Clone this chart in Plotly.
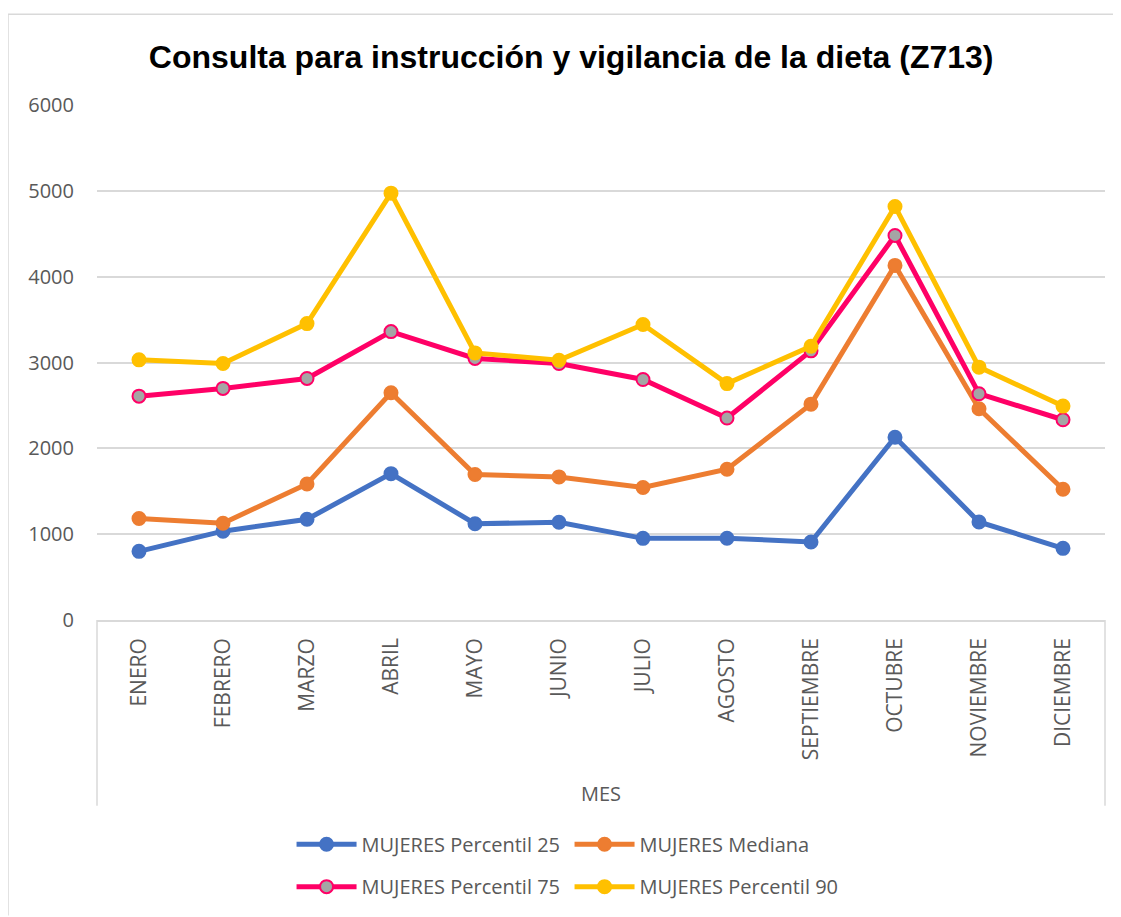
import plotly.graph_objects as go

meses = ["ENERO", "FEBRERO", "MARZO", "ABRIL", "MAYO", "JUNIO", "JULIO",
         "AGOSTO", "SEPTIEMBRE", "OCTUBRE", "NOVIEMBRE", "DICIEMBRE"]
p25 = [800, 1035, 1174, 1705, 1122, 1138, 951, 953, 909, 2130, 1142, 835]
mediana = [1182, 1128, 1585, 2647, 1696, 1667, 1543, 1756, 2515, 4131, 2461, 1523]
p75 = [2608, 2698, 2814, 3360, 3047, 2988, 2802, 2353, 3136, 4480, 2636, 2333]
p90 = [3031, 2988, 3453, 4973, 3112, 3027, 3442, 2754, 3190, 4818, 2946, 2492]

fig = go.Figure()

series = [
    ("MUJERES Percentil 25", p25, "#4472C4", "#4472C4", "#4472C4", "legend"),
    ("MUJERES Mediana", mediana, "#ED7D31", "#ED7D31", "#ED7D31", "legend"),
    ("MUJERES Percentil 75", p75, "#FF0066", "#A5A5A5", "#FF0066", "legend2"),
    ("MUJERES Percentil 90", p90, "#FFC000", "#FFC000", "#FFC000", "legend2"),
]
for name, vals, lc, mc, ml, lg in series:
    fig.add_trace(go.Scatter(
        x=meses, y=vals, name=name, mode="lines+markers",
        line=dict(color=lc, width=5),
        marker=dict(size=13, color=mc, line=dict(color=ml, width=2)),
        legend=lg,
    ))

legend_common = dict(orientation="h", x=0.193, xanchor="left", yanchor="top",
                     font=dict(family="Open Sans", size=20, color="#595959"),
                     entrywidth=203, itemwidth=60, bgcolor="rgba(0,0,0,0)")

fig.update_layout(
    width=1113, height=909,
    margin=dict(l=89, r=16, t=97, b=296),
    paper_bgcolor="white", plot_bgcolor="white",
    title=dict(text="<b>Consulta para instrucción y vigilancia de la dieta (Z713)</b>",
               x=0.506, xanchor="center", y=0.946, yanchor="middle",
               font=dict(family="Liberation Sans, Arial", size=32, color="black")),
    font=dict(family="Open Sans, sans-serif", color="#595959", size=18),
    showlegend=True,
    legend=dict(y=-0.395, **legend_common),
    legend2=dict(y=-0.477, **legend_common),
    xaxis=dict(type="category", range=[-0.5, 11.5], tickangle=-90,
               showgrid=False, showline=True, linecolor="#D9D9D9", linewidth=1.5,
               ticks="", tickfont=dict(size=21, color="#595959"), ticklabelstandoff=8,
               title=dict(text="MES", font=dict(size=20, color="#595959"), standoff=28)),
    yaxis=dict(range=[0, 6000], dtick=1000, showgrid=True, gridcolor="#D9D9D9",
               gridwidth=1.5, zeroline=False, showline=False, ticks="",
               tickfont=dict(size=20, color="#595959"), ticklabelstandoff=22),
)

# category-axis box edges (vertical lines below plot)
for xv in [0, 1]:
    fig.add_shape(type="line", xref="paper", yref="paper", x0=xv, x1=xv,
                  y0=0, y1=-0.3605, line=dict(color="#D9D9D9", width=1.5))

# outer chart border (top and left)
fig.add_shape(type="line", xref="paper", yref="paper",
              x0=(8 - 97) / 1008, x1=(1121 - 97) / 1008,
              y0=(621 - 14) / 516, y1=(621 - 14) / 516,
              line=dict(color="#D9D9D9", width=1.5))
fig.add_shape(type="line", xref="paper", yref="paper",
              x0=(8 - 97) / 1008, x1=(8 - 97) / 1008,
              y0=(621 - 14) / 516, y1=(621 - 917) / 516,
              line=dict(color="#D9D9D9", width=1.5))

fig.write_html("out.html")
